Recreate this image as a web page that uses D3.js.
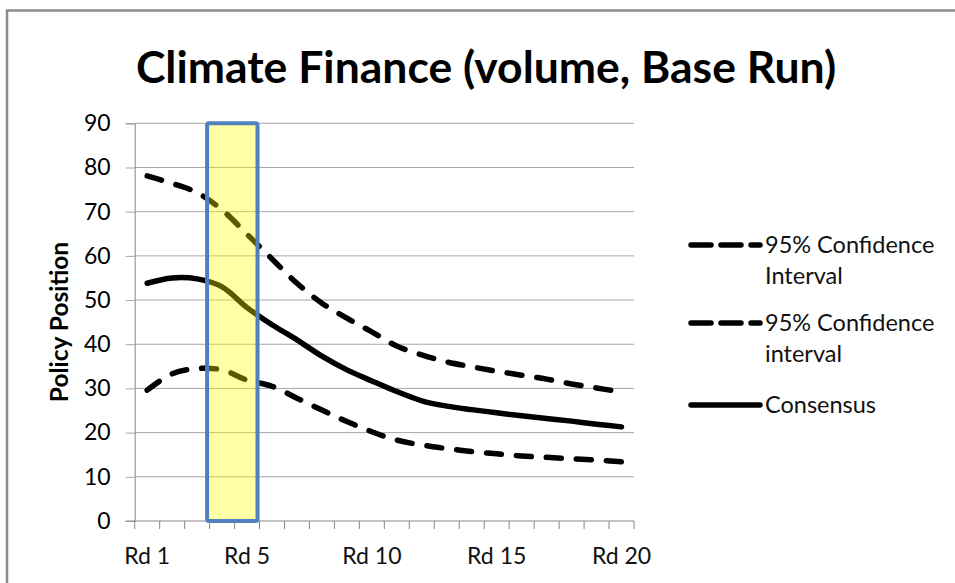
<!DOCTYPE html>
<html>
<head>
<meta charset="utf-8">
<script src="https://cdn.jsdelivr.net/npm/d3@7/dist/d3.min.js"></script>
<style>
  html, body { margin: 0; padding: 0; background: #fff; }
  svg { display: block; }
  text { font-family: Lato, "Open Sans", sans-serif; fill: #000; }
</style>
</head>
<body>
<svg id="chart" width="955" height="583"></svg>
<script>
// Rounds of the negotiation simulation
const rounds = d3.range(1, 21).map(i => "Rd " + i);
const roundLabels = ["Rd 1", "", "", "", "Rd 5", "", "", "", "", "Rd 10",
                     "", "", "", "", "Rd 15", "", "", "", "", "Rd 20"];

// Policy position per round
const upperCI   = [78.1, 76.4, 74.3, 70.4, 64.9, 59.3, 53.8, 49.3, 45.9, 42.8,
                   39.6, 37.6, 36.0, 34.9, 33.9, 33.0, 32.1, 31.0, 30.1, 29.2];
const lowerCI   = [29.6, 33.3, 34.5, 34.2, 31.9, 30.5, 27.8, 25.1, 22.5, 20.2,
                   18.3, 17.2, 16.4, 15.7, 15.2, 14.7, 14.4, 14.1, 13.8, 13.4];
const consensus = [53.8, 55.0, 54.8, 53.0, 48.3, 44.4, 41.0, 37.3, 34.2, 31.7,
                   29.3, 27.2, 26.0, 25.2, 24.5, 23.8, 23.2, 22.6, 21.9, 21.3];

const yTicks = [0, 10, 20, 30, 40, 50, 60, 70, 80, 90];
const highlightRounds = ["Rd 4", "Rd 5"];

const seriesNames = ["95% Confidence\nInterval", "95% Confidence\ninterval", "Consensus"];

const svg = d3.select("#chart");

// Chart frame
svg.append("path")
  .attr("d", "M7,583 V10.5 H955")
  .attr("fill", "none")
  .attr("stroke", "#8c8c8c")
  .attr("stroke-width", 2.5);

const plot = { left: 134.7, right: 634, top: 123.3, bottom: 521 };

const x = d3.scaleBand().domain(rounds).range([plot.left, plot.right]).paddingInner(0).paddingOuter(0);
const y = d3.scaleLinear().domain([0, 90]).range([plot.bottom, plot.top]);
const cx = r => x(r) + x.bandwidth() / 2;

// Title
svg.append("text")
  .attr("x", 486)
  .attr("y", 83)
  .attr("text-anchor", "middle")
  .style("font-weight", "bold")
  .style("font-size", "44.5px")
  .text("Climate Finance (volume, Base Run)");

// Horizontal gridlines
svg.append("g")
  .selectAll("line")
  .data(yTicks.filter(d => d > 0))
  .join("line")
  .attr("x1", plot.left).attr("x2", plot.right)
  .attr("y1", d => y(d)).attr("y2", d => y(d))
  .attr("stroke", "#a6a6a6")
  .attr("stroke-width", 1);

// Y axis
const yAxis = svg.append("g")
  .attr("transform", `translate(${plot.left},0)`)
  .call(d3.axisLeft(y).tickValues(yTicks).tickSize(9).tickPadding(15).tickFormat(d3.format("d")));
yAxis.select(".domain").attr("stroke", "#868686");
yAxis.selectAll(".tick line").attr("stroke", "#a6a6a6");
yAxis.selectAll(".tick text")
  .style("font-size", "23px")
  .style("font-family", "Lato, sans-serif")
  .attr("fill", "#111");

// X axis: baseline, boundary ticks, and round labels
svg.append("line")
  .attr("x1", plot.left - 9).attr("x2", plot.right)
  .attr("y1", plot.bottom).attr("y2", plot.bottom)
  .attr("stroke", "#868686");

const boundaries = rounds.map(r => x(r)).concat([x(rounds[rounds.length - 1]) + x.bandwidth()]);
svg.append("g")
  .selectAll("line")
  .data(boundaries)
  .join("line")
  .attr("x1", d => d).attr("x2", d => d)
  .attr("y1", plot.bottom).attr("y2", plot.bottom + 8)
  .attr("stroke", "#868686");

svg.append("g")
  .selectAll("text")
  .data(rounds)
  .join("text")
  .attr("x", d => cx(d))
  .attr("y", 564)
  .attr("text-anchor", "middle")
  .style("font-size", "23px")
  .style("fill", "#111")
  .text((d, i) => roundLabels[i]);

// Y axis title
svg.append("text")
  .attr("transform", "translate(68,322) rotate(-90)")
  .attr("text-anchor", "middle")
  .style("font-weight", "bold")
  .style("font-size", "24.5px")
  .text("Policy Position");

// Series lines
const line = d3.line()
  .x((d, i) => cx(rounds[i]))
  .y(d => y(d))
  .curve(d3.curveCatmullRom.alpha(0.5));

const series = [
  { values: upperCI, dash: "15,15" },
  { values: lowerCI, dash: "15,15" },
  { values: consensus, dash: null }
];

svg.append("g")
  .selectAll("path")
  .data(series)
  .join("path")
  .attr("d", d => line(d.values))
  .attr("fill", "none")
  .attr("stroke", "#000")
  .attr("stroke-width", 5.5)
  .attr("stroke-linecap", "round")
  .attr("stroke-linejoin", "round")
  .attr("stroke-dasharray", d => d.dash);

// Highlighted rounds
const hx0 = x(highlightRounds[0]);
const hx1 = x(highlightRounds[highlightRounds.length - 1]) + x.bandwidth();
svg.append("rect")
  .attr("x", hx0 - 2.5)
  .attr("y", y(90))
  .attr("width", hx1 - hx0 + 0.5)
  .attr("height", y(0) - y(90))
  .attr("rx", 2)
  .attr("fill", "#ffff00")
  .attr("fill-opacity", 0.35)
  .attr("stroke", "#4f81bd")
  .attr("stroke-width", 4);

// Legend
const legendY = [245, 323, 405];
const legendDash = ["20,10", "20,10", null];
const legend = svg.append("g");
seriesNames.forEach((name, i) => {
  legend.append("line")
    .attr("x1", 691).attr("x2", 760)
    .attr("y1", legendY[i]).attr("y2", legendY[i])
    .attr("stroke", "#000")
    .attr("stroke-width", 5.5)
    .attr("stroke-linecap", "round")
    .attr("stroke-dasharray", legendDash[i]);
  const t = legend.append("text")
    .attr("x", 765)
    .attr("y", legendY[i] + 8)
    .style("font-size", "23.5px")
    .style("fill", "#111");
  name.split("\n").forEach((part, j) => {
    t.append("tspan").attr("x", 765).attr("dy", j === 0 ? 0 : 31).text(part);
  });
});
</script>
</body>
</html>
